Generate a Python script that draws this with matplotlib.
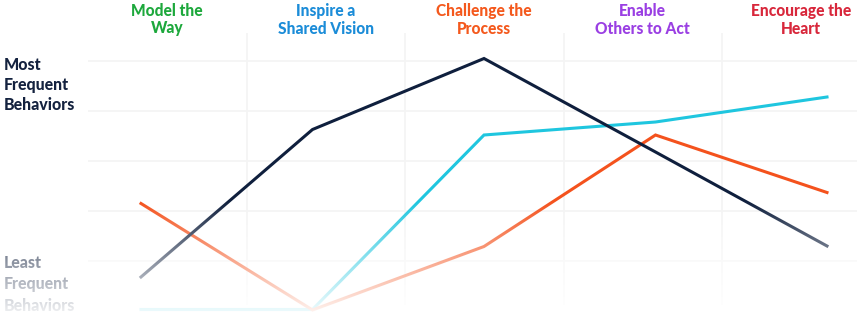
import numpy as np
import matplotlib.pyplot as plt
import matplotlib.transforms as mtransforms

plt.rcParams['font.family'] = ['Lato', 'DejaVu Sans']

# Five leadership practices, each header split over two lines
header_top = ["Model the", "Inspire a", "Challenge the", "Enable", "Encourage the"]
header_bottom = ["Way", "Shared Vision", "Process", "Others to Act", "Heart"]
header_colors = ["#1da83c", "#1b8cd8", "#f4591d", "#9a3fe3", "#d8273b"]

# Behaviour frequency scores per practice (0 = least, 5 = most)
navy_scores = [0.68, 3.63, 5.05, 3.18, 1.30]
cyan_scores = [0.03, 0.03, 3.52, 3.78, 4.28]
orange_scores = [2.15, 0.02, 1.29, 3.52, 2.37]

series_colors = ["#0f1f3d", "#1fc6df", "#f4521d"]

top_label = ["Most", "Frequent", "Behaviors"]
bottom_label = ["Least", "Frequent", "Behaviors"]
label_color = "#14223f"

W, H = 857, 327
fig = plt.figure(figsize=(W / 100, H / 100), dpi=100)
fig.patch.set_facecolor("white")

rect = [88 / W, 22 / H, (W - 88) / W, 272 / H]
ylim = (0.12, 5.56)
text_weight = 900

# Column structure: grid and headers
ax_grid = fig.add_axes(rect)
ax_grid.set_xlim(0, (W - 88) / 158.5)
ax_grid.set_ylim(*ylim)
ax_grid.set_yticks([1, 2, 3, 4, 5])
ax_grid.set_xticks([1, 2, 3, 4])
ax_grid.grid(True, color="#f4f4f4", linewidth=1.2)
ax_grid.tick_params(length=0, labelbottom=False, labelleft=False)
for s in ax_grid.spines.values():
    s.set_visible(False)

head_tr = mtransforms.blended_transform_factory(ax_grid.transData, fig.transFigure)
for i, (t1, t2, c) in enumerate(zip(header_top, header_bottom, header_colors)):
    xc = i + 0.5
    ax_grid.text(xc, 1 - 16 / H, t1, transform=head_tr, ha="center", va="baseline",
                 fontsize=11.2, fontweight=text_weight, color=c)
    ax_grid.text(xc, 1 - 33.5 / H, t2, transform=head_tr, ha="center", va="baseline",
                 fontsize=11.2, fontweight=text_weight, color=c)

# Line series
ax = fig.add_axes(rect)
ax.patch.set_alpha(0)
ax.set_xlim(-(141 - 88) / 171.5, 4 + (W - 827) / 171.5)
ax.set_ylim(*ylim)
ax.axis("off")
x = np.arange(len(header_top))
for vals, col in [(cyan_scores, series_colors[1]),
                  (orange_scores, series_colors[2]),
                  (navy_scores, series_colors[0])]:
    ax.plot(x, vals, color=col, linewidth=2.2, solid_joinstyle="miter", clip_on=False)

# Side labels
for txt, base in zip(top_label, [69.5, 89.8, 110.5]):
    fig.text(4 / W, 1 - base / H, txt, ha="left", va="baseline",
             fontsize=11.4, fontweight=text_weight, color=label_color)
for txt, base in zip(bottom_label, [268.3, 289.0, 310.7]):
    fig.text(4 / W, 1 - base / H, txt, ha="left", va="baseline",
             fontsize=11.4, fontweight=text_weight, color=label_color)

# White fade towards the bottom edge
ax_fade = fig.add_axes([0, 0, 1, 1], zorder=10)
ax_fade.axis("off")
rows = np.arange(H)
alpha = np.clip((rows - 200) / 120.0, 0, 0.93)
fade = np.ones((H, 1, 4))
fade[:, 0, 3] = alpha
ax_fade.imshow(fade, extent=[0, 1, 0, 1], aspect="auto", interpolation="bilinear")
ax_fade.set_xlim(0, 1)
ax_fade.set_ylim(0, 1)

fig.savefig("out.png", dpi=100, facecolor="white")
